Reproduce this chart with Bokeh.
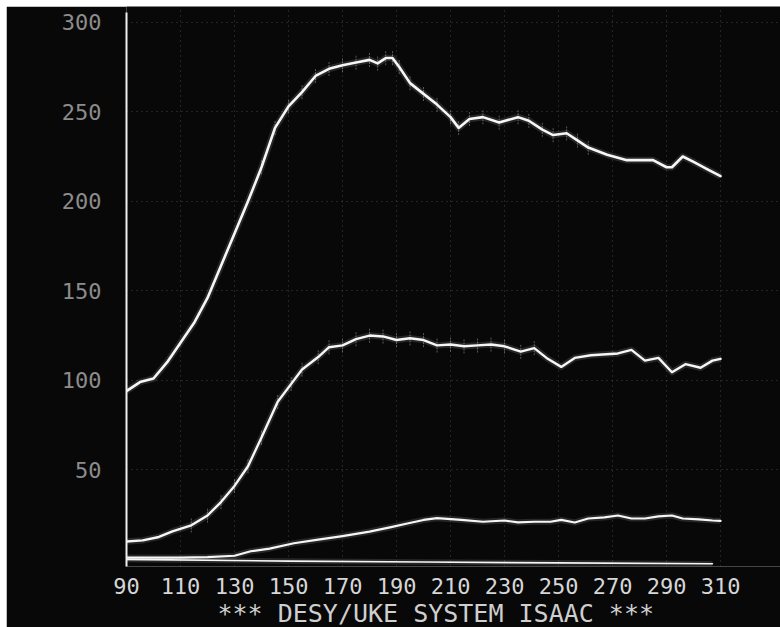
from bokeh.plotting import figure
from bokeh.models import FixedTicker, Range1d, Spacer, Title
from bokeh.layouts import column, row
from bokeh.embed import file_html
from bokeh.resources import INLINE

# ---- data ----
top_x = [90, 95, 100, 105, 110, 115, 120, 125, 130, 135, 140, 145, 150, 155, 160, 165, 170, 175,
         180, 183, 186, 188.5, 191, 195, 200, 205, 210, 213, 217, 222, 228, 235, 239, 244, 248,
         253, 257, 261, 268, 275, 285, 290, 292, 296, 300, 305, 310]
top_y = [94, 99, 101, 110, 121, 132, 146, 164, 182, 200, 219, 241, 253, 261, 270, 274, 276, 277.5,
         279, 277, 280, 280, 275, 266, 260, 254, 247, 241, 246, 247, 244, 247, 245, 240, 237,
         238, 234, 230, 226, 223, 223, 219, 219, 225, 222, 218, 214]

mid_x = [90, 96, 102, 107, 114, 120, 125, 130, 135, 140, 146, 151, 155, 161, 165, 170, 175, 180,
         185, 190, 195, 200, 205, 210, 215, 220, 225, 230, 236, 241, 246, 251, 256, 262, 272, 277,
         282, 287, 292, 297, 302.6, 307, 310]
mid_y = [10, 10.6, 12.5, 15.6, 19, 24.5, 32, 41, 52, 68, 88, 98, 106, 113, 118.5, 119.5, 123, 125,
         124.5, 122.5, 123.5, 122.5, 119.5, 120, 119, 119.5, 120, 119, 116, 118, 112, 107.5, 112.5,
         114, 115, 117, 111, 112.5, 104.5, 109, 107, 111, 112]

low_x = [90, 100, 110, 120, 130, 136, 143, 152, 161, 170, 180, 188, 194, 200, 205, 214, 222, 230,
         235, 241, 247, 251, 256, 261, 267, 272, 277, 282, 287, 292, 296, 302, 307, 310]
low_y = [1, 1, 1, 1.2, 2, 4.5, 6, 9, 11, 13, 15.5, 18, 20, 22, 23, 22, 21, 21.7,
         20.6, 21, 21, 22, 20.6, 22.8, 23.4, 24.5, 22.8, 22.8, 24, 24.5, 22.8, 22.3, 21.7, 21.5]

base_x = [90, 150, 200, 250, 307]
base_y = [0, -1, -1.5, -2, -2.5]

x_ticks = [90, 110, 130, 150, 170, 190, 210, 230, 250, 270, 290, 310]
y_ticks = [50, 100, 150, 200, 250, 300]
title_text = "*** DESY/UKE SYSTEM ISAAC ***"

# error-bar spans (x limits) on the two upper traces, and half height
top_err_range = (140, 265)
mid_err_range = (112, 245)
err_half = 4

BG = "#080808"
FONT = "DejaVu Sans Mono"
EDGE = 6  # white photo margin at top/left

# frame runs to the right and top edges of the canvas (no seam)
p = figure(width=780 - EDGE, height=627 - EDGE, output_backend="svg", toolbar_location=None,
           x_range=Range1d(90, 332.2), y_range=Range1d(-4, 308.8),
           min_border_left=126 - EDGE, min_border_right=0, min_border_top=0,
           min_border_bottom=59,
           background_fill_color=BG, border_fill_color=BG)
p.outline_line_color = None

# axes
p.xaxis.ticker = FixedTicker(ticks=x_ticks)
p.yaxis.ticker = FixedTicker(ticks=y_ticks)
for ax in (p.xaxis, p.yaxis):
    ax.major_tick_line_color = None
    ax.minor_tick_line_color = None
    ax.major_label_text_font = FONT
    ax.major_label_text_font_size = "22px"
p.xaxis.axis_line_color = None
p.xaxis.major_label_text_color = "#d6d6d6"
p.xaxis.major_label_standoff = 5
p.yaxis.axis_line_color = "#f0f0f0"
p.yaxis.axis_line_width = 2
p.yaxis.bounds = (-4, 305.5)
p.yaxis.major_label_text_color = "#8c8c8c"
p.yaxis.major_label_standoff = 19

p.add_layout(Title(text=title_text, align="left", offset=91, standoff=0,
                   text_font=FONT, text_font_size="25px", text_font_style="normal",
                   text_color="#cfcfcf"), "below")

# grid: faint dotted
p.xgrid.ticker = FixedTicker(ticks=x_ticks[1:])
p.ygrid.ticker = FixedTicker(ticks=y_ticks)
for g in (p.xgrid, p.ygrid):
    g.grid_line_color = "#7a7a7a"
    g.grid_line_alpha = 0.5
    g.grid_line_dash = "1 4"
    g.grid_line_width = 1

# error bars (faint vertical dashes)
def bars(xs, ys, rng):
    bx = [x for x in xs if rng[0] <= x <= rng[1]]
    by = [y for x, y in zip(xs, ys) if rng[0] <= x <= rng[1]]
    p.segment(x0=bx, y0=[y - err_half for y in by], x1=bx, y1=[y + err_half for y in by],
              line_color="#bdbdbd", line_width=1, line_alpha=0.45, line_dash="2 1")

bars(top_x, top_y, top_err_range)
bars(mid_x, mid_y, mid_err_range)

# traces with a soft phosphor glow
for xs, ys, w in ((top_x, top_y, 2.6), (mid_x, mid_y, 2.4), (low_x, low_y, 2.2), (base_x, base_y, 1.6)):
    p.line(xs, ys, line_color="#ffffff", line_width=w + 4, line_alpha=0.12, line_join="round")
    p.line(xs, ys, line_color="#f6f6f6", line_width=w, line_join="round", line_cap="round")

layout = column(Spacer(width=780, height=EDGE),
                row(Spacer(width=EDGE, height=627 - EDGE), p, spacing=0),
                spacing=0)

open("out.html", "w").write(file_html(layout, INLINE))
